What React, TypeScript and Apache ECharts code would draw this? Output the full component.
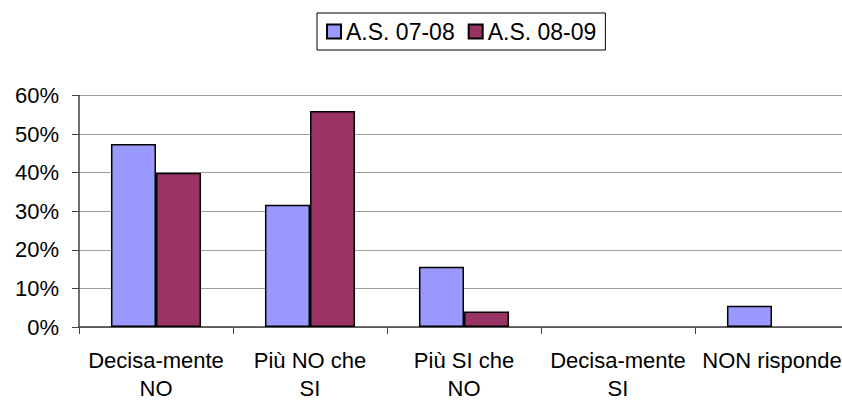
import React, { useEffect, useRef } from "react";
import * as echarts from "echarts";

const categories = [
  "Decisa-mente\nNO",
  "Più NO che\nSI",
  "Più SI che\nNO",
  "Decisa-mente\nSI",
  "NON risponde",
];
const seriesNames = ["A.S. 07-08", "A.S. 08-09"];
const values0708 = [47.4, 31.7, 15.6, 0, 5.5];
const values0809 = [40, 56, 4, 0, 0];
const yTicks = { min: 0, max: 60, interval: 10 };

const hideZero = (arr: number[]) => arr.map((v) => (v === 0 ? "-" : v));

export default function App() {
  const ref = useRef<HTMLDivElement>(null);
  useEffect(() => {
    if (!ref.current) return;
    const chart = echarts.init(ref.current, undefined, { renderer: "svg" });
    const font = "'Liberation Sans', Arial, sans-serif";
    chart.setOption({
      animation: false,
      backgroundColor: "#ffffff",
      textStyle: { fontFamily: font },
      legend: {
        data: seriesNames,
        icon: "rect",
        left: 317,
        top: 13,
        padding: [7, 9, 7, 9],
        borderColor: "#000",
        borderWidth: 1,
        itemWidth: 14,
        itemHeight: 14,
        itemGap: 13,
        textStyle: { fontSize: 23, color: "#000", fontFamily: font },
      },
      grid: {
        left: 79,
        top: 95.5,
        width: 770,
        height: 231.5,
        containLabel: false,
        outerBoundsMode: "none",
      },
      xAxis: {
        type: "category",
        data: categories,
        axisLine: { lineStyle: { color: "#404040", width: 1.5 } },
        axisTick: { show: true, length: 7, alignWithLabel: false, lineStyle: { color: "#404040" } },
        axisLabel: {
          fontSize: 22,
          color: "#000",
          margin: 19,
          lineHeight: 28,
          interval: 0,
          fontFamily: font,
        },
      },
      yAxis: {
        type: "value",
        min: yTicks.min,
        max: yTicks.max,
        interval: yTicks.interval,
        axisLine: { show: true, lineStyle: { color: "#404040", width: 1.5 } },
        axisTick: { show: true, length: 7, lineStyle: { color: "#404040" } },
        axisLabel: {
          formatter: "{value}%",
          fontSize: 22,
          color: "#000",
          margin: 20,
          fontFamily: font,
        },
        splitLine: { show: true, lineStyle: { color: "#a0a0a0", width: 1 } },
      },
      series: [
        {
          name: seriesNames[0],
          type: "bar",
          data: hideZero(values0708),
          barGap: "0%",
          barCategoryGap: "41.5%",
          itemStyle: { color: "#9999FF", borderColor: "#000", borderWidth: 1.5 },
        },
        {
          name: seriesNames[1],
          type: "bar",
          data: hideZero(values0809),
          barGap: "0%",
          barCategoryGap: "41.5%",
          itemStyle: { color: "#993366", borderColor: "#000", borderWidth: 1.5 },
        },
      ],
    });
    return () => chart.dispose();
  }, []);
  return (
    <div
      ref={ref}
      style={{ position: "fixed", left: 0, top: 0, width: 842, height: 405 }}
    />
  );
}
